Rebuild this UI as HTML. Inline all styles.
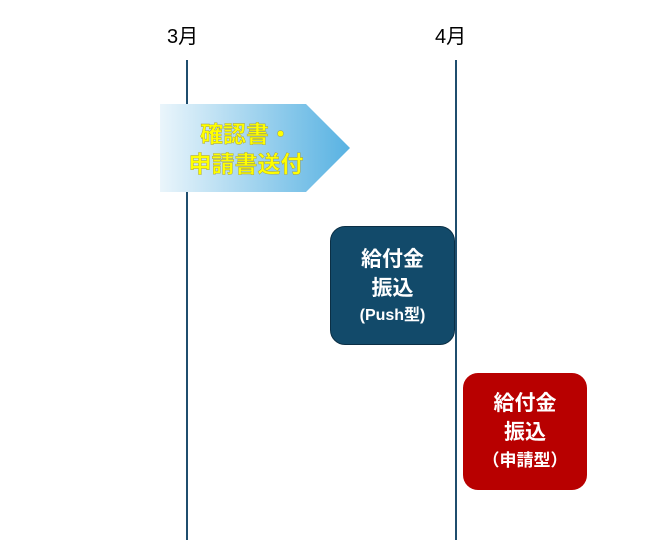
<!DOCTYPE html>
<html><head><meta charset="utf-8"><style>
body{margin:0;width:668px;height:540px;background:#fff;position:relative;overflow:hidden;font-family:"Liberation Sans","Noto Sans CJK JP",sans-serif;}
.lbl{position:absolute;font-size:20px;color:#000;}
.vl{position:absolute;top:60px;width:2px;height:480px;background:#1f4e6e;}
.box{position:absolute;border-radius:15px;color:#fff;font-weight:bold;text-align:center;box-sizing:border-box;}
</style></head><body>
<div class="lbl" style="left:167px;top:20px;">3月</div>
<div class="lbl" style="left:435px;top:20px;">4月</div>
<div class="vl" style="left:186px;"></div>
<div class="vl" style="left:455px;"></div>
<svg style="position:absolute;left:0;top:0" width="668" height="540">
<defs><linearGradient id="g" x1="0" x2="1"><stop offset="0" stop-color="#eaf5fb"/><stop offset="1" stop-color="#58b2e2"/></linearGradient></defs>
<polygon points="160,104 306,104 350,148 306,192 160,192" fill="url(#g)"/>
<text x="246" y="142" text-anchor="middle" font-size="23" font-weight="bold" fill="#ffff00" stroke="#a09a40" stroke-width="0.4" font-family="Liberation Sans, Noto Sans CJK JP, sans-serif">確認書・</text>
<text x="246" y="172" text-anchor="middle" font-size="23" font-weight="bold" fill="#ffff00" stroke="#a09a40" stroke-width="0.4" font-family="Liberation Sans, Noto Sans CJK JP, sans-serif">申請書送付</text>
</svg>
<div class="box" style="left:330px;top:226px;width:125px;height:119px;background:#124a6a;border:1.5px solid #0b2f45;padding-top:18px;">
<div style="font-size:21px;line-height:29px;">給付金<br>振込</div>
<div style="font-size:16px;line-height:26px;">(Push型)</div></div>
<div class="box" style="left:463px;top:373px;width:124px;height:117px;background:#b80000;padding-top:16px;">
<div style="font-size:21px;line-height:29px;">給付金<br>振込</div>
<div style="font-size:17px;line-height:28px;">（申請型）</div></div>
</body></html>
